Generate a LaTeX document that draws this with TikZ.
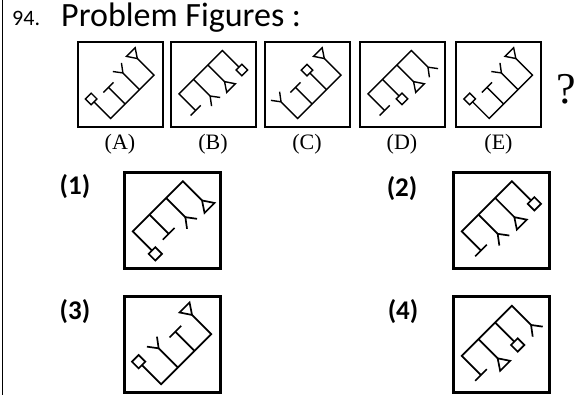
\documentclass[tikz,border=0pt]{standalone}
\usepackage{fontspec}
\setmainfont{Liberation Serif}
\newfontfamily\calib{Carlito}
\newcommand\decT[1]{\draw ({#1-7},6) -- ({#1+7},6);}
\newcommand\decY[1]{\draw ({#1-6},14) -- (#1,6) -- ({#1+6},14);}
\newcommand\decTri[1]{\draw (#1,6) -- ({#1-6},15) -- ({#1+6},15) -- cycle;}
\newcommand\decSq[1]{\draw ({#1-4},6) rectangle ({#1+4},14);}
% cx cy rot scale d1 d2 d3 d4
\newcommand\combfig[8]{%
  \begin{scope}[shift={(#1,#2)}, rotate=#3, scale=#4]
    \draw (-30,6) -- (-30,-17) -- (30,-17) -- (30,6);
    \draw (-10,-17) -- (-10,6);
    \draw (10,-17) -- (10,6);
    \foreach \xx/\dd in {-30/#5,-10/#6,10/#7,30/#8} {\csname dec\dd\endcsname{\xx}}
  \end{scope}}
\tikzset{
  pbox/.style={draw, line width=2pt, minimum width=85pt, minimum height=85pt, inner sep=0pt},
  obox/.style={draw, line width=3pt, minimum width=96pt, minimum height=96pt, inner sep=0pt},
  plab/.style={font=\fontsize{22}{22}\selectfont},
  olab/.style={font=\calib\bfseries\fontsize{27}{27}\selectfont},
  pfig/.style={line width=1.4pt, line join=miter},
  ofig/.style={line width=1.7pt, line join=miter}
}
\begin{document}
\begin{tikzpicture}[x=1pt,y=1pt]
\useasboundingbox (0,0) rectangle (585,395);
\fill[white] (0,0) rectangle (585,395);
\coordinate (lt) at (2.5,395);
\coordinate (lb) at (2.5,0);
\draw[line width=1.5pt] (lt) -- (lb);
\node[anchor=base west, font=\calib\fontsize{22}{22}\selectfont, inner sep=0pt] (num) at (12,369) {94.};
\node[anchor=base west, font=\calib\fontsize{34}{34}\selectfont, inner sep=0pt] (title) at (61,368) {Problem Figures :};
% problem boxes
\node[pbox] (A) at (120,310.5) {};
\node[pbox] (B) at (213,310.5) {};
\node[pbox] (C) at (307,310.5) {};
\node[pbox] (D) at (402,310.5) {};
\node[pbox] (E) at (498.5,310.5) {};
\node[plab] (lA) at (120,251) {(A)};
\node[plab] (lB) at (213,251) {(B)};
\node[plab] (lC) at (307,251) {(C)};
\node[plab] (lD) at (402,251) {(D)};
\node[plab] (lE) at (498.5,251) {(E)};
\node[font=\fontsize{44}{44}\selectfont] (q) at (566,306) {?};
\begin{scope}[pfig]
\combfig{120}{310.5}{45}{1.02}{Sq}{T}{Y}{Tri}
\combfig{213}{310.5}{-135}{1.02}{Sq}{Tri}{Y}{T}
\combfig{307}{310.5}{45}{1.02}{Y}{T}{Sq}{Tri}
\combfig{402}{310.5}{-135}{1.02}{Y}{Tri}{Sq}{T}
\combfig{498.5}{310.5}{45}{1.02}{Sq}{T}{Y}{Tri}
\end{scope}
% options
\node[obox] (o1) at (172,174.5) {};
\node[obox] (o2) at (501,174.5) {};
\node[obox] (o3) at (172,50) {};
\node[obox] (o4) at (501,50) {};
\node[olab] (l1) at (75,208) {(1)};
\node[olab] (l2) at (402,206) {(2)};
\node[olab] (l3) at (75,83) {(3)};
\node[olab] (l4) at (403,83) {(4)};
\begin{scope}[ofig]
\combfig{172}{174.5}{-135}{1.18}{Tri}{Y}{T}{Sq}
\combfig{501}{174.5}{-135}{1.18}{Sq}{Tri}{Y}{T}
\combfig{172}{50}{45}{1.18}{Sq}{Y}{T}{Tri}
\combfig{501}{50}{-135}{1.18}{Y}{Sq}{Tri}{T}
\end{scope}
\end{tikzpicture}
\end{document}
